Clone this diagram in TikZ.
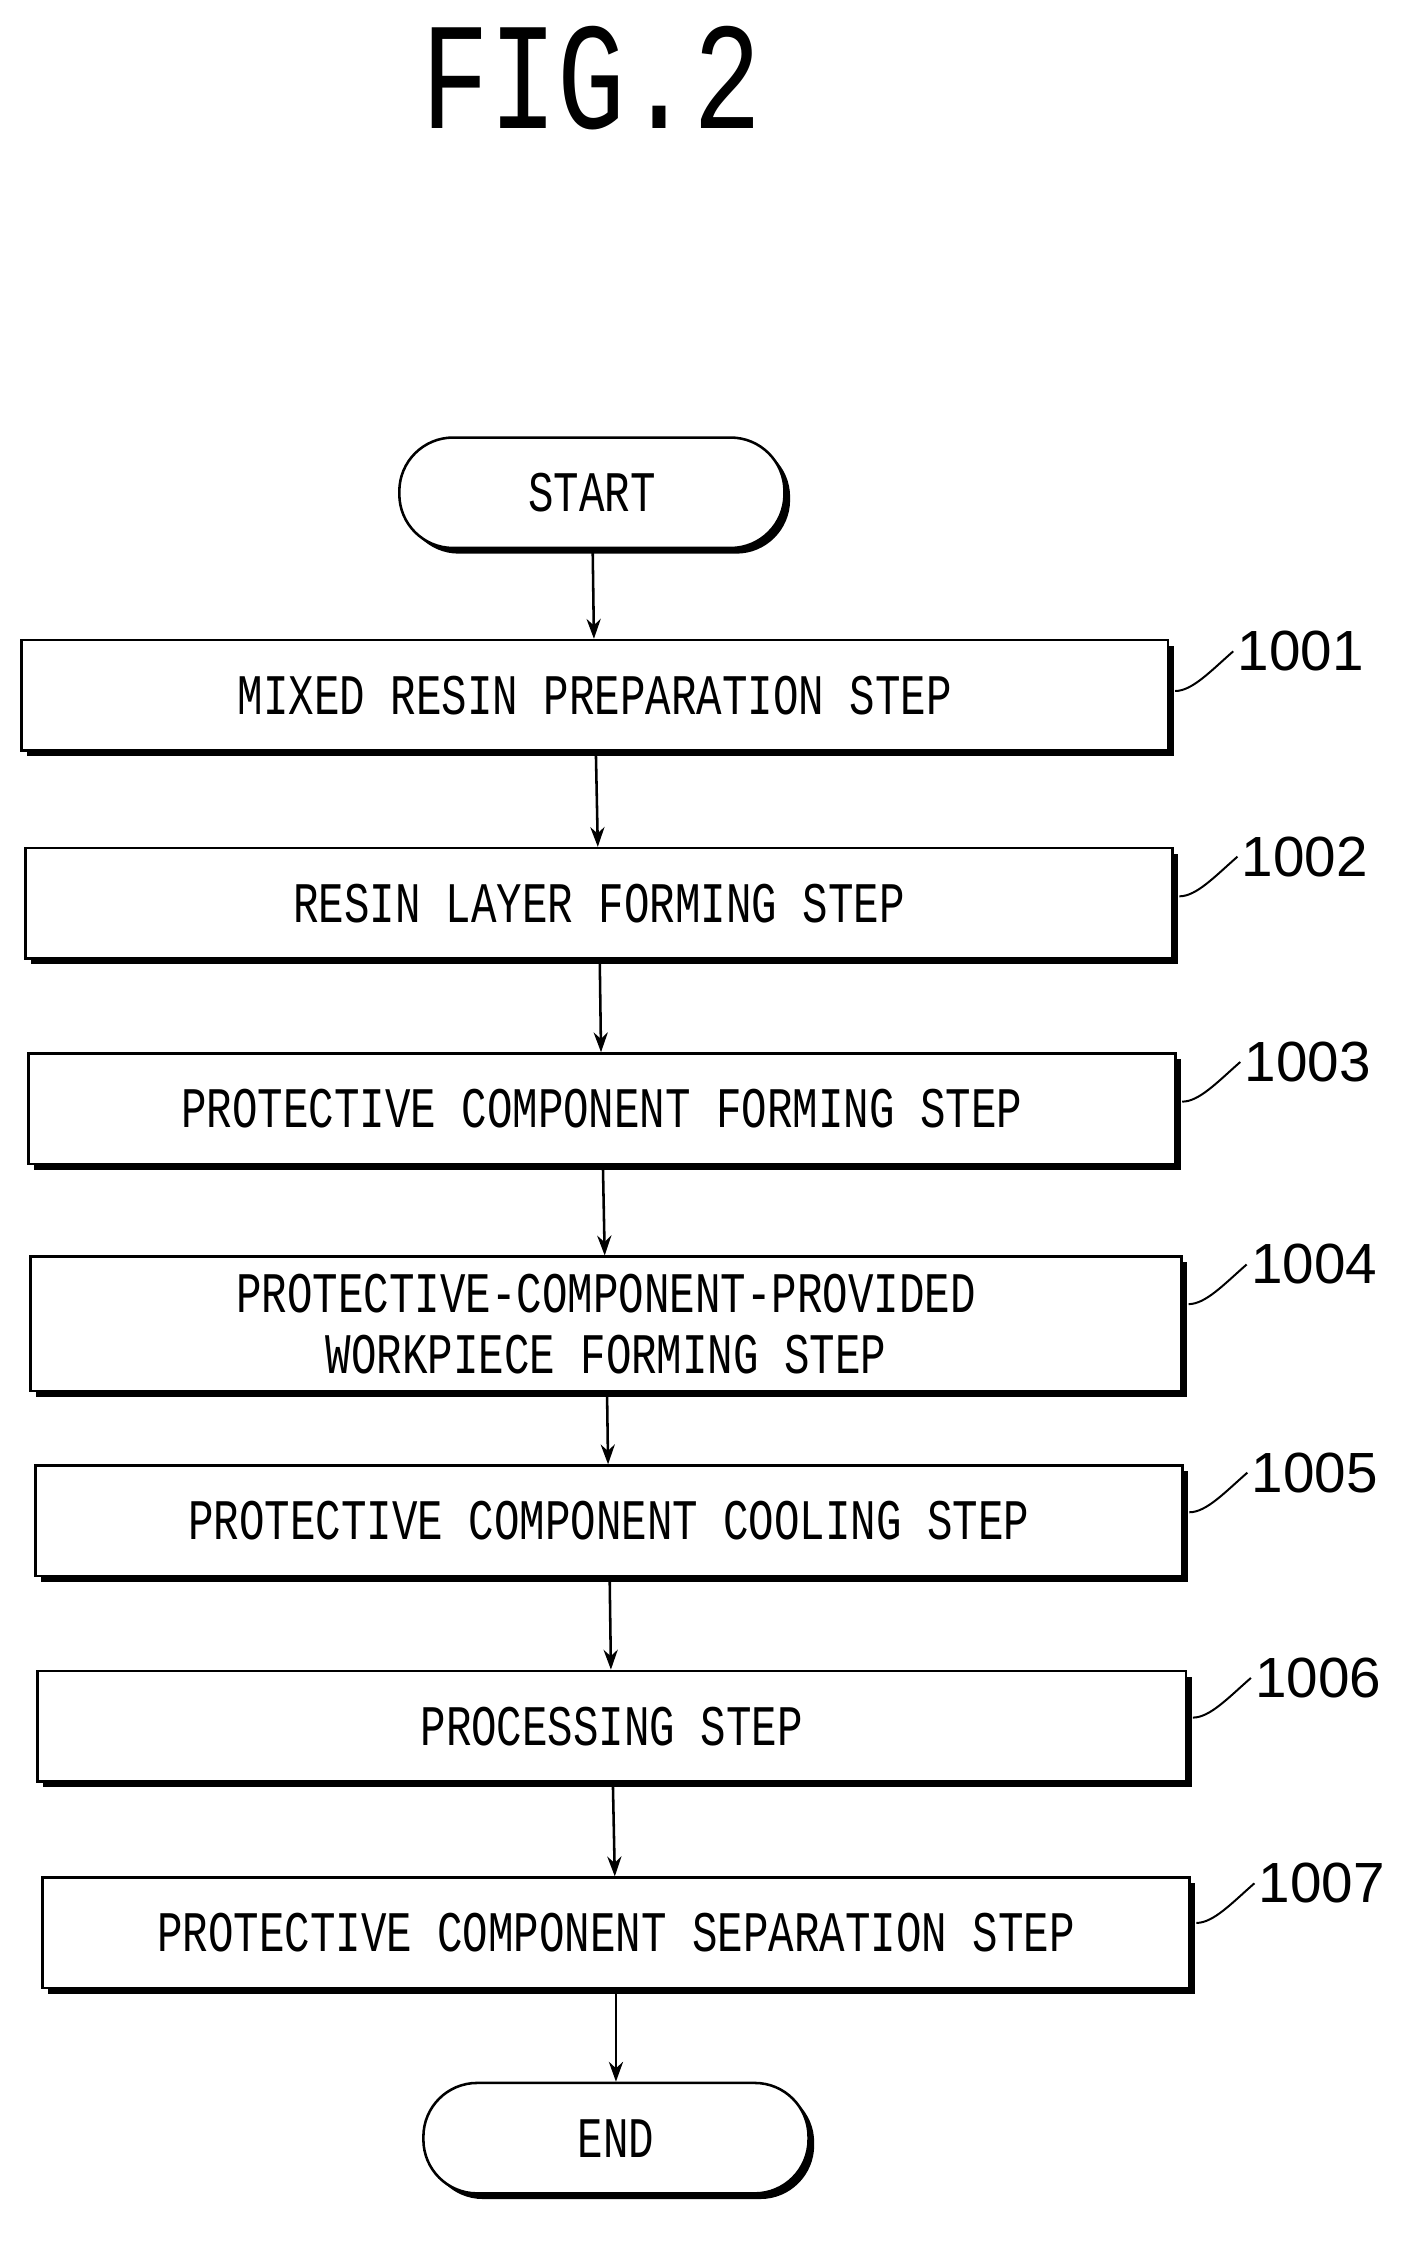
\documentclass[tikz,border=0pt]{standalone}
\usepackage{fontspec}
\usepackage{graphicx}
\setmainfont{Liberation Sans}
\newfontfamily\boxfont{Liberation Mono}
\newcommand{\tx}[1]{\scalebox{1}[1.35]{#1}}
\usetikzlibrary{shadows,arrows.meta}
\begin{document}
\begin{tikzpicture}[x=1pt,y=-1pt,
  box/.style={draw,line width=1.8pt,fill=white,minimum height=78pt,font=\boxfont\fontsize{30}{40}\selectfont,align=center,
    drop shadow={opacity=1,fill=black,shadow xshift=4pt,shadow yshift=-4pt}},
  term/.style={box,rounded corners=38pt,minimum width=272pt},
  arr/.style={-{Stealth[length=14pt,width=10pt]},line width=1.8pt},
  lead/.style={line width=1.4pt},
  num/.style={font=\fontsize{40}{40}\selectfont,anchor=west,inner sep=0pt}]
\useasboundingbox (0,0) rectangle (1000,1589);
\node[font=\boxfont\fontsize{80}{100}\selectfont] (title) at (418,55) {\tx{FIG.2}};
\node[term] (start) at (418,348) {\tx{START}};
\node[box,minimum width=810pt] (b1) at (420,491) {\tx{MIXED RESIN PREPARATION STEP}};
\node[box,minimum width=810pt] (b2) at (423,638) {\tx{RESIN LAYER FORMING STEP}};
\node[box,minimum width=810pt] (b3) at (425,783) {\tx{PROTECTIVE COMPONENT FORMING STEP}};
\node[box,minimum width=813pt,minimum height=95pt,font=\boxfont\fontsize{30}{43}\selectfont] (b4) at (428,935) {\tx{PROTECTIVE-COMPONENT-PROVIDED}\\\tx{WORKPIECE FORMING STEP}};
\node[box,minimum width=810pt] (b5) at (430,1074) {\tx{PROTECTIVE COMPONENT COOLING STEP}};
\node[box,minimum width=811pt] (b6) at (432,1219) {\tx{PROCESSING STEP}};
\node[box,minimum width=810pt] (b7) at (435,1365) {\tx{PROTECTIVE COMPONENT SEPARATION STEP}};
\node[term] (end) at (435,1510) {\tx{END}};
\draw[arr] (start) -- (b1);
\draw[arr] (b1) -- (b2);
\draw[arr] (b2) -- (b3);
\draw[arr] (b3) -- (b4);
\draw[arr] (b4) -- (b5);
\draw[arr] (b5) -- (b6);
\draw[arr] (b6) -- (b7);
\draw[arr] (b7) -- (end);
\foreach \b/\n/\y in {b1/1001/460,b2/1002/605,b3/1003/750,b4/1004/893,b5/1005/1040,b6/1006/1185,b7/1007/1330}{
  \node[num] (n\n) at ([xshift=48pt]\b.east |- 0,\y) {\n};
  \coordinate (s\n) at ([xshift=4pt]\b.east |- 0,\y+28);
  \draw[lead] (s\n) .. controls +(12,0) and +(-16,14) .. ([xshift=-3pt]n\n.west |- 0,\y) ;
}
\end{tikzpicture}
\end{document}
